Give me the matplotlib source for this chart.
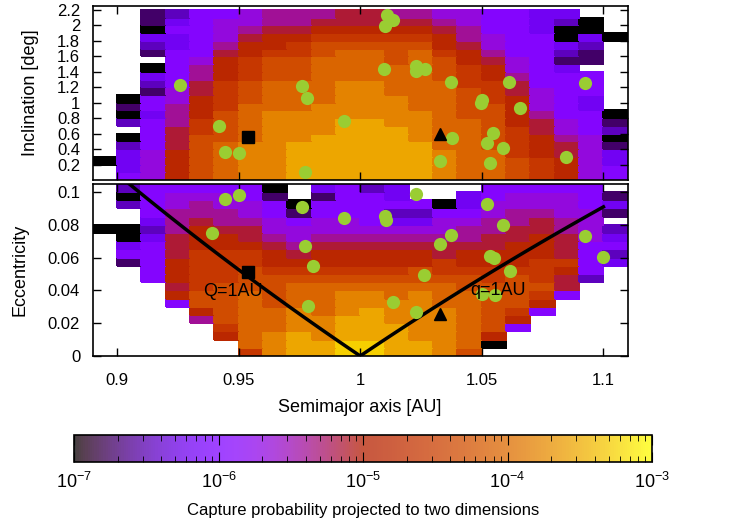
import matplotlib.pyplot as plt
import numpy as np
from matplotlib.colors import LogNorm

plt.rcParams['font.family'] = ['Liberation Sans', 'DejaVu Sans']

# bins: semimajor axis [AU], inclination [deg], eccentricity
a_edges = np.round(np.arange(0.89, 1.1101, 0.01), 3)
inc_edges = np.round(np.arange(0.0, 2.2001, 0.1), 2)
ecc_edges = np.round(np.arange(0.0, 0.10501, 0.005), 3)

# capture probability per cell, one hex digit per cell:
# log10(p) = -7 + digit*4/15, '.' = empty.  rows listed from top to bottom
inc_rows = [
    "..124456667766554433..",
    "..1345566777776544320.",
    "..0445677888887644300.",
    "..33457889999986544030",
    "..2346889aaaaa8754432.",
    "..1447899abbab9864421.",
    "...4589aabbbaba875411.",
    "..04689aabbbbba98543..",
    "..34689aabbbbba986444.",
    "..2479abbbccbbb997444.",
    "..1579abbbccbbba97544.",
    ".04589abbbcccbba98543.",
    ".14689bbbccccbbaa8543.",
    ".0368abcccccccbaa86440",
    ".2469abcccddccbba87541",
    "..479abcccdddcbba97542",
    ".047aabccddddcbba98650",
    ".247abccddddddbba98751",
    ".358abccddddddcbb98753",
    "0358abccddddddcbba9853",
    ".358abccddddddcbba9854",
    ".458abccddddddcbba9854",
]
ecc_rows = [
    ".2444440.3423...44444.",
    ".0455541.1443..3455541",
    ".245655404444403555543",
    "..46665414442244566551",
    "..3676654554335566765.",
    "0026877555555556677652",
    ".037887656666666778753",
    ".347888767777777788744",
    ".447999878888878888742",
    ".148999888888898889943",
    "..4899a999999a9999984.",
    "..4899aaaaaaaaaa9a972.",
    "...79aaabbbbbbbaaaa7..",
    "...8aababbccbcbbaa94..",
    "...4aababbccccbbaa8...",
    "....8abbcbcdcccba94...",
    "....6abbccddcccba8....",
    ".....9bbccdddccba4....",
    ".....8bcdcdddccb8.....",
    "......bcddeeddcb0.....",
    "......9cddeeddca......",
]

# observed objects (green circles)
obj_a_inc = [0.926, 0.942, 0.9445, 0.950, 0.976, 0.978, 0.9775, 1.011, 1.0136,
             1.010, 1.0097, 1.0228, 1.0231, 1.0266, 1.0373, 1.061, 1.0925, 1.0499,
             1.0495, 1.0659, 0.9934, 1.0546, 1.0378, 1.0522, 1.0586, 1.0328, 1.0533, 1.0847]
obj_inc = [1.23, 0.70, 0.36, 0.35, 1.22, 1.06, 0.10, 2.13, 2.07,
           1.99, 1.43, 1.48, 1.41, 1.44, 1.27, 1.27, 1.25, 1.03,
           1.00, 0.93, 0.77, 0.61, 0.54, 0.48, 0.41, 0.25, 0.22, 0.30]
obj_a_ecc = [0.9445, 0.9501, 0.9392, 0.9773, 0.9805, 0.9784, 0.9761, 1.0231, 0.9934,
             1.0100, 1.0105, 1.0522, 1.0586, 1.0374, 1.0328, 1.0532, 1.0549, 1.0614,
             1.0925, 1.0997, 1.0264, 1.0499, 1.0556, 1.0135, 1.0228]
obj_ecc = [0.0955, 0.0981, 0.0747, 0.0673, 0.0551, 0.0306, 0.0910, 0.0990, 0.0843,
           0.0852, 0.0830, 0.0924, 0.0797, 0.0740, 0.0685, 0.0608, 0.0598, 0.0516,
           0.0734, 0.0606, 0.0491, 0.0379, 0.0369, 0.0326, 0.0271]

# special objects: square and triangle (a, e, i)
sq_a, sq_e, sq_i = 0.9537, 0.0512, 0.553
tri_a, tri_e, tri_i = 1.0328, 0.0255, 0.592


def decode(rows):
    grid = np.full((len(rows), len(rows[0])), np.nan)
    for r, row in enumerate(rows):
        for c, ch in enumerate(row):
            if ch != '.':
                grid[r, c] = 10 ** (-7 + int(ch, 16) * 4 / 15)
    return grid[::-1]


norm = LogNorm(vmin=1e-7, vmax=1e-3)
cmap = plt.get_cmap('gnuplot')
green = '#9acd32'

fig = plt.figure(figsize=(7.5, 5.25), dpi=100)
ax1 = fig.add_axes([0.1235, 0.657, 0.7135, 0.3315])
ax2 = fig.add_axes([0.1235, 0.322, 0.7135, 0.328])
cax = fig.add_axes([0.0987, 0.120, 0.7707, 0.0505])

# top: inclination
mesh = ax1.pcolormesh(a_edges, inc_edges, decode(inc_rows), cmap=cmap, norm=norm,
                      edgecolors='face', linewidth=0.3)
ax1.plot(obj_a_inc, obj_inc, 'o', color=green, ms=9.5, mec='none')
ax1.plot(sq_a, sq_i, 's', color='black', ms=9)
ax1.plot(tri_a, tri_i, '^', color='black', ms=9)
ax1.set_xlim(0.89, 1.11)
ax1.set_ylim(0, 2.25)
ax1.set_yticks(np.arange(0.2, 2.21, 0.2))
ax1.set_yticklabels(['0.2', '0.4', '0.6', '0.8', '1', '1.2', '1.4', '1.6', '1.8', '2', '2.2'])
ax1.set_xticks([0.9, 0.95, 1.0, 1.05, 1.1])
ax1.set_xticklabels([])
ax1.set_ylabel('Inclination [deg]', fontsize=13)
ax1.yaxis.set_label_coords(-0.10, 0.5)

# bottom: eccentricity
ax2.pcolormesh(a_edges, ecc_edges, decode(ecc_rows), cmap=cmap, norm=norm,
               edgecolors='face', linewidth=0.3)
aQ = np.linspace(0.9, 1.0, 60)
aq = np.linspace(1.0, 1.1, 60)
ax2.plot(aQ, 1 / aQ - 1, color='black', lw=2.5)
ax2.plot(aq, 1 - 1 / aq, color='black', lw=2.5)
ax2.plot(obj_a_ecc, obj_ecc, 'o', color=green, ms=9.5, mec='none')
ax2.plot(sq_a, sq_e, 's', color='black', ms=9)
ax2.plot(tri_a, tri_e, '^', color='black', ms=9)
ax2.text(0.9475, 0.0395, 'Q=1AU', fontsize=13, ha='center', va='center')
ax2.text(1.0565, 0.0398, 'q=1AU', fontsize=13, ha='center', va='center')
ax2.set_xlim(0.89, 1.11)
ax2.set_ylim(0, 0.105)
ax2.set_yticks([0, 0.02, 0.04, 0.06, 0.08, 0.1])
ax2.set_yticklabels(['0', '0.02', '0.04', '0.06', '0.08', '0.1'])
ax2.set_xticks([0.9, 0.95, 1.0, 1.05, 1.1])
ax2.set_xticklabels(['0.9', '0.95', '1', '1.05', '1.1'])
ax2.set_ylabel('Eccentricity', fontsize=13)
ax2.yaxis.set_label_coords(-0.12, 0.5)
ax2.set_xlabel('Semimajor axis [AU]', fontsize=13)
ax2.xaxis.set_label_coords(0.5, -0.25)

for ax in (ax1, ax2):
    ax.tick_params(direction='in', top=True, right=True, length=6, width=1,
                   labelsize=12, pad=9)
    ax.tick_params(axis='x', pad=12)
    for s in ax.spines.values():
        s.set_linewidth(1.2)

cb = fig.colorbar(mesh, cax=cax, orientation='horizontal')
cb.solids.set_alpha(0.75)
cb.ax.tick_params(which='both', direction='in', top=True, bottom=True, labelsize=13, pad=7)
cb.ax.tick_params(which='major', length=7)
cb.ax.tick_params(which='minor', length=4)
cb.outline.set_linewidth(1.2)
cb.set_label('Capture probability projected to two dimensions', fontsize=12, labelpad=8)

fig.savefig('out.png', dpi=100)
